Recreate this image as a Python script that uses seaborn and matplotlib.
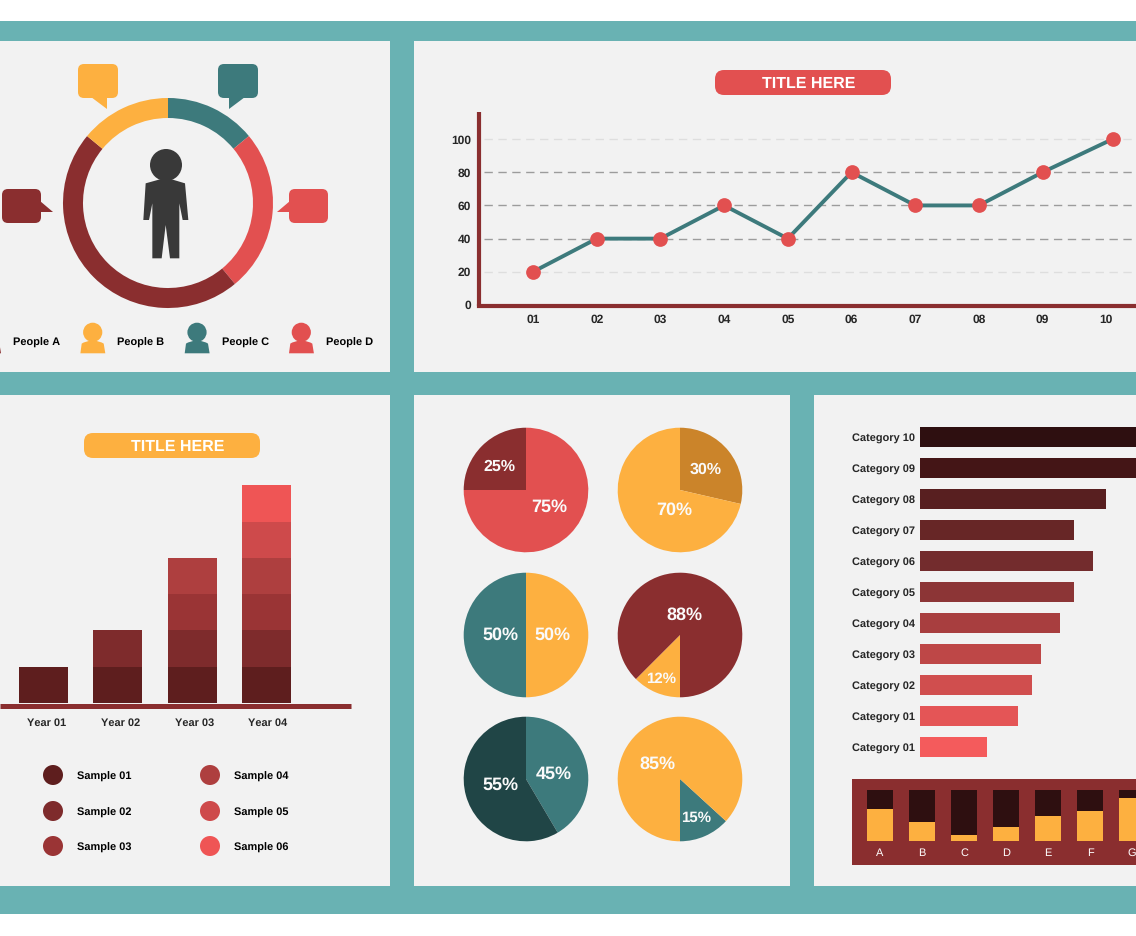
import matplotlib
matplotlib.use("Agg")
import matplotlib.pyplot as plt
from matplotlib.patches import Rectangle, FancyBboxPatch, Polygon, Circle
from matplotlib.transforms import ScaledTranslation
import seaborn as sns

W, H = 1136, 936

TEAL_BG = "#69B2B3"
PANEL = "#F2F2F2"
RED = "#E25050"
ORANGE = "#FDB040"
TEAL = "#3D7A7C"
DARK_TEAL = "#204546"
MAROON = "#8A2E2F"
DARK_ORANGE = "#CB842A"
BLACKISH = "#2E0F10"

# ring
ring_values = [14, 25, 47, 14]
ring_colors = [TEAL, RED, MAROON, ORANGE]
people_names = ["People A", "People B", "People C", "People D"]
people_colors = [MAROON, ORANGE, TEAL, RED]

# line chart
line_x = [1, 2, 3, 4, 5, 6, 7, 8, 9, 10.1]
line_values = [20, 40, 40, 60, 40, 80, 60, 60, 80, 100]
line_labels = ["01", "02", "03", "04", "05", "06", "07", "08", "09", "10"]
y_ticks = [0, 20, 40, 60, 80, 100]
grid_levels = [20, 40, 60, 80, 100]
grid_colors = ["#DEDEDE", "#9C9C9C", "#9C9C9C", "#9C9C9C", "#DEDEDE"]

# stacked columns
years = ["Year 01", "Year 02", "Year 03", "Year 04"]
sample_names = ["Sample 01", "Sample 02", "Sample 03", "Sample 04", "Sample 05", "Sample 06"]
sample_01 = [10, 10, 10, 10]
sample_02 = [0, 10, 10, 10]
sample_03 = [0, 0, 10, 10]
sample_04 = [0, 0, 10, 10]
sample_05 = [0, 0, 0, 10]
sample_06 = [0, 0, 0, 10]
sample_colors = ["#5E1E1E", "#7E2B2C", "#9A3435", "#AE3F3F", "#CE4A4B", "#EF5555"]

# pies
pie_values = [[25, 75], [28.6, 71.4], [50, 50], [12.5, 87.5], [41.5, 58.5], [13.2, 86.8]]
pie_colors = [[MAROON, RED], [DARK_ORANGE, ORANGE], [TEAL, ORANGE],
              [ORANGE, MAROON], [TEAL, DARK_TEAL], [TEAL, ORANGE]]
pie_starts = [90, 90, 90, 270, 90, 270]
pie_ccw = [True, False, True, False, False, True]
pie_labels = [["25%", "75%"], ["30%", "70%"], ["50%", "50%"],
              ["12%", "88%"], ["45%", "55%"], ["15%", "85%"]]

# horizontal bars
bar_names = ["Category 10", "Category 09", "Category 08", "Category 07", "Category 06", "Category 05",
             "Category 04", "Category 03", "Category 02", "Category 01", "Category 01"]
bar_values = [250, 216, 186, 154, 173, 154, 140, 121, 112, 98, 67]
bar_colors = ["#2E0F10", "#441516", "#581F20", "#672626", "#732C2D", "#8C3536",
              "#A83E3F", "#BE4747", "#D04E4E", "#E45556", "#F45B5C"]

# small progress bars
letters = ["A", "B", "C", "D", "E", "F", "G"]
letter_total = [100, 100, 100, 100, 100, 100, 100]
letter_values = [63, 37, 12, 27, 49, 59, 84]


sns.set_theme(style="white")
plt.rcParams["font.family"] = ["Liberation Sans", "DejaVu Sans"]
plt.rcParams["font.weight"] = "bold"
plt.rcParams["text.hinting"] = "no_hinting"
plt.rcParams["text.hinting_factor"] = 1

fig = plt.figure(figsize=(W / 100, H / 100), dpi=100, facecolor="white")


def ax_px(x0, y0, x1, y1, **kw):
    # axes from pixel box, y measured from the top of the image
    ax = fig.add_axes([x0 / W, 1 - y1 / H, (x1 - x0) / W, (y1 - y0) / H], **kw)
    ax.set_facecolor("none")
    return ax


bg = ax_px(0, 0, W, H)
bg.set_xlim(0, W)
bg.set_ylim(H, 0)
bg.axis("off")
bg.add_patch(Rectangle((0, 21), W, 893, fc=TEAL_BG, ec="none"))
for x0, y0, x1, y1 in [(-5, 41, 390, 372), (414, 41, 1140, 372), (-5, 395, 390, 886),
                       (414, 395, 790, 886), (814, 395, 1140, 886)]:
    bg.add_patch(Rectangle((x0, y0), x1 - x0, y1 - y0, fc=PANEL, ec="none"))


def pill(x0, y0, x1, y1, color, text):
    bg.add_patch(FancyBboxPatch((x0 + 9, y0 + 9), x1 - x0 - 18, y1 - y0 - 18,
                                boxstyle="round,pad=9,rounding_size=9", fc=color, ec="none"))
    bg.text((x0 + x1) / 2 + 6, (y0 + y1) / 2, text, color="white", fontsize=11.4,
            ha="center", va="center_baseline")


def bubble(x0, y0, x1, y1, tail, color):
    bg.add_patch(FancyBboxPatch((x0 + 6, y0 + 6), x1 - x0 - 12, y1 - y0 - 12,
                                boxstyle="round,pad=6,rounding_size=6", fc=color, ec="none"))
    bg.add_patch(Polygon(tail, fc=color, ec="none"))


def label(x, y, text, size=7.7, color="black", ha="left"):
    bg.text(x, y + 0.5, text, fontsize=size, color=color, ha=ha, va="center_baseline")


# ---- ring panel
ring_ax = ax_px(58, 93, 278, 313)
ring_ax.pie(ring_values, colors=ring_colors, startangle=90, counterclock=False, radius=1,
            wedgeprops=dict(width=20 / 105, edgecolor="none"))
ring_ax.set_xlim(-110 / 105, 110 / 105)
ring_ax.set_ylim(-110 / 105, 110 / 105)

bubble(78, 64, 118, 98, [(91, 97), (107, 109), (107, 97)], ORANGE)
bubble(218, 64, 258, 98, [(229, 97), (229, 109), (245, 97)], TEAL)
bubble(2, 189, 41, 223, [(40, 201), (53, 212), (40, 212)], MAROON)
bubble(289, 189, 328, 223, [(290, 201), (277, 212), (290, 212)], RED)

DARK = "#393939"
bg.add_patch(Circle((166, 165), 16, fc=DARK, ec="none"))
body = [(437, 430), (480, 418), (515, 418), (555, 430), (565, 540), (548, 540), (538, 490),
        (538, 655), (510, 655), (497, 555), (485, 655), (457, 655), (457, 490), (447, 540),
        (430, 540)]
bg.add_patch(Polygon([(a / 3, b / 3 + 40) for a, b in body], fc=DARK, ec="none"))

shoulders = [(-12.3, 353.3), (-11, 343.6), (-9, 342.5), (-4, 341), (4, 341), (9, 342.5), (11, 343.6),
             (12.6, 353.3)]
for cx, tx, name, col in zip([-11.6, 92.7, 197, 301.3], [13, 117.3, 221.7, 325.7],
                             people_names, people_colors):
    bg.add_patch(Circle((cx, 332.3), 9.6, fc=col, ec="none"))
    bg.add_patch(Polygon([(cx + a, b) for a, b in shoulders], fc=col, ec="none"))
    label(tx, 341, name)

# ---- line chart
pill(715, 70, 891, 95, RED, "TITLE HERE")
line_ax = ax_px(479, 112, W, 306)
line_ax.hlines(grid_levels, 0.23, 11, colors=grid_colors, linewidth=1, linestyles=(0, (6, 4)), zorder=1)
sns.lineplot(x=line_x, y=line_values, ax=line_ax, color=TEAL, linewidth=2.8, marker="o", markersize=10.6,
             markerfacecolor=RED, markeredgecolor="none", markeredgewidth=0, zorder=3)
line_ax.set_xlim(0.152, 10.466)
line_ax.set_ylim(-0.6, 116.3)
line_ax.set_xticks(range(1, 11))
line_ax.set_xticklabels(line_labels, fontsize=8.4)
line_ax.set_yticks(y_ticks)
line_ax.set_yticklabels(y_ticks, fontsize=8.6)
line_ax.tick_params(length=0)
line_ax.tick_params(axis="x", pad=6)
line_ax.tick_params(axis="y", pad=5.8)
sns.despine(ax=line_ax)
for side in ["left", "bottom"]:
    line_ax.spines[side].set_color(MAROON)
    line_ax.spines[side].set_linewidth(3)
line_ax.spines["left"].set_capstyle("butt")

# ---- stacked columns
pill(84, 433, 260, 458, ORANGE, "TITLE HERE")
col_ax = ax_px(0, 470, 351, 705.5)
layers = [sample_01, sample_02, sample_03, sample_04, sample_05, sample_06]
bottom = [0, 0, 0, 0]
for vals, col in zip(layers, sample_colors):
    sns.barplot(x=years, y=vals, bottom=bottom, color=col, saturation=1, width=0.66, ax=col_ax,
                edgecolor="none", linewidth=0)
    bottom = [a + b for a, b in zip(bottom, vals)]
col_ax.set_xlim(-0.585, 4.14)
col_ax.set_ylim(-0.69, 64.2)
col_ax.set_yticks([])
col_ax.set_xticks([0.047, 1.04, 2.03, 3.02])
col_ax.set_xticklabels(years)
col_ax.tick_params(axis="x", length=0, pad=9, labelsize=7.9)
sns.despine(ax=col_ax, left=True)
col_ax.spines["bottom"].set_color(MAROON)
col_ax.spines["bottom"].set_linewidth(3.6)
col_ax.spines["bottom"].set_capstyle("butt")

for i, (name, col) in enumerate(zip(sample_names, sample_colors)):
    cx = 53 if i < 3 else 210
    cy = [775, 811, 846][i % 3]
    bg.add_patch(Circle((cx, cy), 10, fc=col, ec="none"))
    label(cx + 24, cy, name)

# ---- pies
pie_centers = [(526, 490), (680, 490), (526, 635), (680, 635), (526, 779), (680, 779)]
pie_text = [[(499, 465.5, 11.2), (549, 505.5, 13.2)], [(706, 468.5, 11.2), (674, 508.5, 13.2)],
            [(500, 633.5, 13.2), (552, 633.5, 13.2)], [(661, 677.5, 10.9), (684, 613.5, 13.2)],
            [(554, 772.5, 13.2), (500, 783.5, 13.2)], [(696, 816.5, 10.9), (657, 762.5, 13.2)]]
for (cx, cy), vals, cols, start, ccw, texts, spots in zip(pie_centers, pie_values, pie_colors, pie_starts,
                                                          pie_ccw, pie_labels, pie_text):
    ax = ax_px(cx - 66, cy - 66, cx + 66, cy + 66)
    ax.pie(vals, colors=cols, startangle=start, counterclock=ccw, radius=1,
           wedgeprops=dict(edgecolor="none"))
    ax.set_xlim(-66 / 62.3, 66 / 62.3)
    ax.set_ylim(-66 / 62.3, 66 / 62.3)
    for t, (x, y, size) in zip(texts, spots):
        fig.text(x / W, 1 - y / H, t, color="#FAFAFA", fontsize=size, ha="center", va="center_baseline")

# ---- horizontal bars
slots = [str(i) for i in range(len(bar_names))]
bar_ax = ax_px(920, 420, W, 765)
sns.barplot(x=bar_values, y=slots, hue=slots, palette=bar_colors, saturation=1, width=0.645,
            legend=False, ax=bar_ax, orient="h", edgecolor="none", linewidth=0)
bar_ax.set_xlim(0, 216)
bar_ax.set_ylim(10.58, -0.548)
bar_ax.set_xticks([])
bar_ax.set_xlabel("")
bar_ax.set_yticks(range(len(bar_names)))
bar_ax.set_yticklabels(bar_names, fontsize=7.7, va="center_baseline")
bar_ax.tick_params(length=0, pad=3.6)
for t in bar_ax.get_yticklabels():
    t.set_transform(t.get_transform() + ScaledTranslation(0, -1 / 100, fig.dpi_scale_trans))
sns.despine(ax=bar_ax, left=True, bottom=True)

# ---- small bars
mini_ax = ax_px(852, 779, W, 865)
mini_ax.set_facecolor(MAROON)
sns.barplot(x=letters, y=letter_total, color=BLACKISH, saturation=1, width=0.63, ax=mini_ax,
            edgecolor="none", linewidth=0)
sns.barplot(x=letters, y=letter_values, color=ORANGE, saturation=1, width=0.63, ax=mini_ax,
            edgecolor="none", linewidth=0)
mini_ax.set_xlim(-0.667, 6.095)
mini_ax.set_ylim(-47, 121.6)
mini_ax.set_yticks([])
mini_ax.spines["bottom"].set_position(("data", 0))
for side in mini_ax.spines:
    mini_ax.spines[side].set_visible(False)
mini_ax.tick_params(axis="x", length=0, pad=5, labelsize=8, labelcolor="white")
for t in mini_ax.get_xticklabels():
    t.set_fontweight("normal")

fig.savefig("out.png", dpi=100)
